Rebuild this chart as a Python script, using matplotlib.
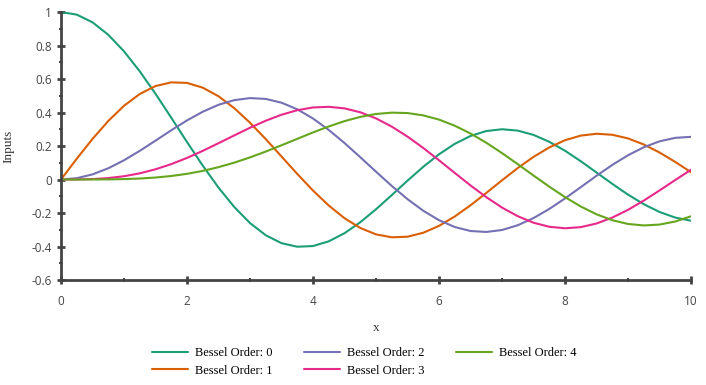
import numpy as np
import matplotlib
matplotlib.use("Agg")
import matplotlib.pyplot as plt
import matplotlib.ticker as mticker

# ---------------------------------------------------------------------------
# Data read off the chart (sampled every 0.25 along x)
# ---------------------------------------------------------------------------
x_vals = [0.0, 0.25, 0.5, 0.75, 1.0, 1.25, 1.5, 1.75, 2.0, 2.25, 2.5,
          2.75, 3.0, 3.25, 3.5, 3.75, 4.0, 4.25, 4.5, 4.75, 5.0,
          5.25, 5.5, 5.75, 6.0, 6.25, 6.5, 6.75, 7.0, 7.25, 7.5,
          7.75, 8.0, 8.25, 8.5, 8.75, 9.0, 9.25, 9.5, 9.75, 10.0]

order0 = [1.0, 0.9844, 0.9385, 0.8642, 0.7652, 0.6459, 0.5118, 0.3690,
          0.2239, 0.0828, -0.0484, -0.1641, -0.2601, -0.3327, -0.3801, -0.4013,
          -0.3971, -0.3691, -0.3205, -0.2551, -0.1776, -0.0931, -0.0068, 0.0759,
          0.1506, 0.2130, 0.2601, 0.2894, 0.3001, 0.2919, 0.2663, 0.2252,
          0.1717, 0.1092, 0.0419, -0.0259, -0.0903, -0.1474, -0.1939, -0.2273,
          -0.2459]
order1 = [0.0, 0.1240, 0.2423, 0.3493, 0.4401, 0.5106, 0.5579, 0.5801,
          0.5767, 0.5483, 0.4971, 0.4260, 0.3391, 0.2411, 0.1374, 0.0333,
          -0.0660, -0.1555, -0.2311, -0.2892, -0.3276, -0.3450, -0.3414, -0.3179,
          -0.2767, -0.2207, -0.1538, -0.0803, -0.0047, 0.0685, 0.1352, 0.1915,
          0.2346, 0.2621, 0.2731, 0.2672, 0.2453, 0.2091, 0.1613, 0.1049,
          0.0435]
order2 = [0.0, 0.0078, 0.0306, 0.0670, 0.1149, 0.1711, 0.2321, 0.2940,
          0.3528, 0.4046, 0.4461, 0.4739, 0.4861, 0.4811, 0.4586, 0.4191,
          0.3641, 0.2959, 0.2178, 0.1333, 0.0466, -0.0383, -0.1173, -0.1865,
          -0.2429, -0.2836, -0.3074, -0.3132, -0.3014, -0.2730, -0.2302, -0.1758,
          -0.1130, -0.0457, 0.0224, 0.0870, 0.1448, 0.1926, 0.2279, 0.2488,
          0.2546]
order3 = [0.0, 0.0003, 0.0026, 0.0085, 0.0196, 0.0369, 0.0610, 0.0919,
          0.1289, 0.1710, 0.2167, 0.2633, 0.3091, 0.3510, 0.3868, 0.4137,
          0.4302, 0.4340, 0.4247, 0.4015, 0.3648, 0.3158, 0.2561, 0.1882,
          0.1148, 0.0392, -0.0354, -0.1053, -0.1676, -0.2191, -0.2580, -0.2822,
          -0.2911, -0.2843, -0.2626, -0.2274, -0.1809, -0.1258, -0.0653, -0.0028,
          0.0584]
order4 = [0.0, 0.0000, 0.0002, 0.0008, 0.0025, 0.0059, 0.0118, 0.0210,
          0.0340, 0.0514, 0.0738, 0.1006, 0.1321, 0.1669, 0.2045, 0.2428,
          0.2812, 0.3168, 0.3485, 0.3739, 0.3912, 0.3992, 0.3967, 0.3829,
          0.3577, 0.3212, 0.2747, 0.2196, 0.1577, 0.0917, 0.0238, -0.0427,
          -0.1053, -0.1611, -0.2078, -0.2429, -0.2654, -0.2742, -0.2691, -0.2505,
          -0.2196]

series = [order0, order1, order2, order3, order4]
labels = ["Bessel Order: 0", "Bessel Order: 1", "Bessel Order: 2",
          "Bessel Order: 3", "Bessel Order: 4"]
colors = ["#1b9e77", "#d95f02", "#7570b3", "#e7298a", "#66a61e"]

# ---------------------------------------------------------------------------
# Figure
# ---------------------------------------------------------------------------
plt.rcParams["axes.unicode_minus"] = False
axis_col = "#444444"
serif = "Liberation Serif"

fig = plt.figure(figsize=(7.06, 3.85), dpi=100)
ax = fig.add_axes([0.0864, 0.2727, 0.8924, 0.6961])

for y, lab, col in zip(series, labels, colors):
    ax.plot(x_vals, y, color=col, lw=1.5, label=lab,
            solid_joinstyle="round", solid_capstyle="round")

ax.set_xlim(0, 10)
ax.set_ylim(-0.6, 1.0)

for s in ["top", "right"]:
    ax.spines[s].set_visible(False)
for s in ["left", "bottom"]:
    ax.spines[s].set_color(axis_col)
    ax.spines[s].set_linewidth(2)

ax.xaxis.set_major_locator(mticker.MultipleLocator(2))
ax.xaxis.set_minor_locator(mticker.MultipleLocator(1))
ax.yaxis.set_major_locator(mticker.MultipleLocator(0.2))
ax.yaxis.set_minor_locator(mticker.MultipleLocator(0.1))
fmt = mticker.FuncFormatter(lambda v, p: f"{round(v, 1):g}")
ax.xaxis.set_major_formatter(fmt)
ax.yaxis.set_major_formatter(fmt)

ax.tick_params(which="major", direction="inout", length=6, width=2,
               color=axis_col, labelcolor=axis_col, labelsize=8.5)
ax.tick_params(which="minor", direction="inout", length=3, width=1.5,
               color=axis_col)
ax.tick_params(axis="x", which="major", pad=8)
for lab in ax.get_xticklabels() + ax.get_yticklabels():
    lab.set_family("Open Sans")

ax.set_xlabel("x", fontsize=9.5, color="#333333", family=serif, labelpad=10)
ax.set_ylabel("Inputs", fontsize=9.5, color="#333333", family=serif, labelpad=12)

fig.legend(loc="upper center", bbox_to_anchor=(0.516, 0.112), ncol=3,
           frameon=False, prop={"family": serif, "size": 9},
           handlelength=2.9, handletextpad=0.55, columnspacing=2.5,
           labelspacing=0.45, borderaxespad=0)

fig.savefig("out.png", dpi=100)
